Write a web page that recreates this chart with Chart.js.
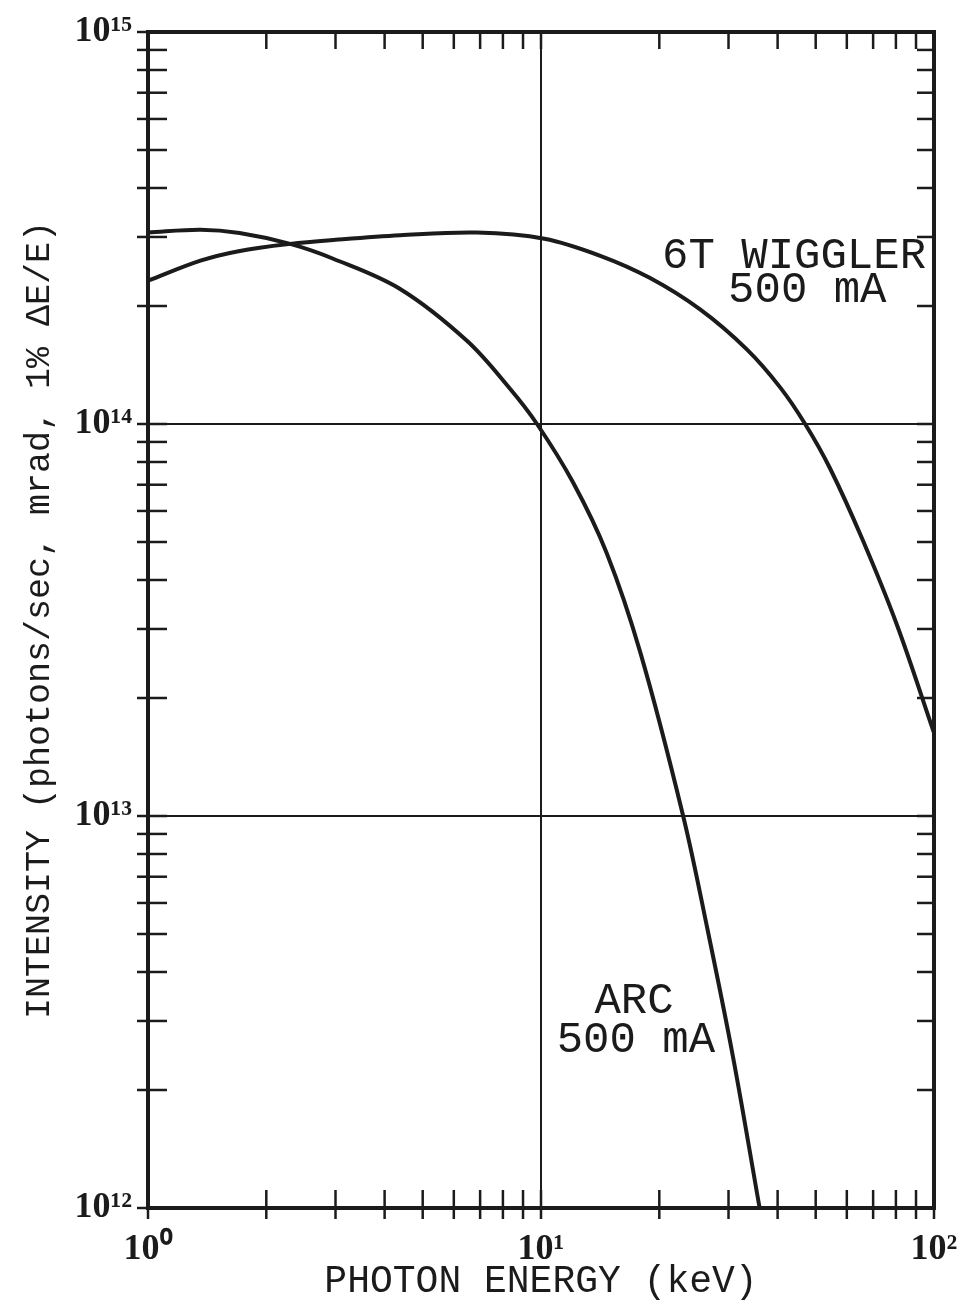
<!DOCTYPE html>
<html>
<head>
<meta charset="utf-8">
<script src="https://cdn.jsdelivr.net/npm/chart.js@4.4.1/dist/chart.umd.min.js"></script>
<style>
  html, body { margin: 0; padding: 0; background: #fff; }
  #wrap { width: 966px; height: 1305px; position: relative; }
</style>
</head>
<body>
<div id="wrap"><canvas id="spectrum"></canvas></div>
<script>
// photon energy (keV) / intensity
const wigglerEnergy = [1.0, 1.36, 1.7, 2.3, 3.0, 4.38, 6.87, 10.2, 14.1, 18.9, 25.4, 33.4, 40.6, 47.0, 54.4, 65.9, 80.5, 100];
const wigglerIntensity = [2.32e14, 2.61e14, 2.76e14, 2.88e14, 2.95e14, 3.03e14, 3.08e14, 2.97e14, 2.69e14, 2.36e14, 1.96e14, 1.55e14, 1.24e14, 1.0e14, 7.7e13, 5.05e13, 3.07e13, 1.63e13];

const arcEnergy = [1.0, 1.36, 1.71, 2.3, 2.96, 4.38, 6.48, 8.34, 9.77, 12.06, 14.7, 17.9, 23.0, 26.4, 30.8, 36.0];
const arcIntensity = [3.08e14, 3.13e14, 3.07e14, 2.88e14, 2.64e14, 2.21e14, 1.63e14, 1.23e14, 1.0e14, 7.1e13, 4.68e13, 2.61e13, 1.0e13, 5.26e12, 2.43e12, 1.0e12];

// axis ticks
const xTickValues = [1, 2, 3, 4, 5, 6, 7, 8, 9, 10, 20, 30, 40, 50, 60, 70, 80, 90, 100];
const xDecadeLabels = ["10\u2070", "10\u00b9", "10\u00b2"];
const yTickValues = [1e12, 2e12, 3e12, 4e12, 5e12, 6e12, 7e12, 8e12, 9e12,
                     1e13, 2e13, 3e13, 4e13, 5e13, 6e13, 7e13, 8e13, 9e13,
                     1e14, 2e14, 3e14, 4e14, 5e14, 6e14, 7e14, 8e14, 9e14, 1e15];
const yDecadeLabels = ["10\u00b9\u00b2", "10\u00b9\u00b3", "10\u00b9\u2074", "10\u00b9\u2075"];

const INK = "#1b1b1b";

function isDecade(v) {
    const l = Math.log10(v);
    return Math.abs(l - Math.round(l)) < 1e-9;
}

function toPoints(xs, ys) {
    return xs.map((x, i) => ({ x: x, y: ys[i] }));
}

// keep label overflow from moving the plot area
function noOverflow(s) {
    s.paddingLeft = 0;
    s.paddingRight = 0;
    s.paddingTop = 0;
    s.paddingBottom = 0;
}

// tick marks on all four sides + top/right frame
const frameTicks = {
    id: "frameTicks",
    afterDraw(chart) {
        const ctx = chart.ctx;
        const area = chart.chartArea;
        const xs = chart.scales.x;
        const ys = chart.scales.y;
        ctx.save();
        ctx.strokeStyle = INK;
        ctx.lineCap = "butt";

        ctx.lineWidth = 2.5;
        xTickValues.forEach(v => {
            const px = xs.getPixelForValue(v);
            ctx.beginPath();
            ctx.moveTo(px, area.bottom - 18);
            ctx.lineTo(px, area.bottom + 11);
            ctx.stroke();
            if (v !== xTickValues[0] && v !== xTickValues[xTickValues.length - 1]) {
                ctx.beginPath();
                ctx.moveTo(px, area.top);
                ctx.lineTo(px, area.top + 17);
                ctx.stroke();
            }
        });
        yTickValues.forEach(v => {
            const py = ys.getPixelForValue(v);
            ctx.beginPath();
            ctx.moveTo(area.left - 11, py);
            ctx.lineTo(area.left + 19, py);
            ctx.stroke();
            if (v !== yTickValues[0] && v !== yTickValues[yTickValues.length - 1]) {
                ctx.beginPath();
                ctx.moveTo(area.right, py);
                ctx.lineTo(area.right - 17, py);
                ctx.stroke();
            }
        });

        ctx.lineWidth = 4;
        ctx.beginPath();
        ctx.moveTo(area.left - 2, area.top);
        ctx.lineTo(area.right, area.top);
        ctx.lineTo(area.right, area.bottom + 2);
        ctx.stroke();
        ctx.restore();
    }
};

// curve labels
const curveLabels = {
    id: "curveLabels",
    afterDraw(chart) {
        const ctx = chart.ctx;
        const a = chart.chartArea;
        const w = a.right - a.left;
        const h = a.bottom - a.top;
        ctx.save();
        ctx.fillStyle = INK;
        ctx.font = "44px 'Liberation Mono', monospace";
        ctx.textAlign = "left";
        ctx.textBaseline = "alphabetic";
        ctx.fillText("6T WIGGLER", a.left + 0.654 * w, a.top + 0.201 * h);
        ctx.fillText("500 mA", a.left + 0.738 * w, a.top + 0.230 * h);
        ctx.fillText("ARC", a.left + 0.568 * w, a.top + 0.834 * h);
        ctx.fillText("500 mA", a.left + 0.520 * w, a.top + 0.867 * h);
        ctx.restore();
    }
};

const chart = new Chart(document.getElementById("spectrum"), {
    type: "line",
    data: {
        datasets: [
            {
                label: "6T WIGGLER 500 mA",
                data: toPoints(wigglerEnergy, wigglerIntensity),
                borderColor: INK,
                borderWidth: 4,
                pointRadius: 0,
                tension: 0.35,
                fill: false
            },
            {
                label: "ARC 500 mA",
                data: toPoints(arcEnergy, arcIntensity),
                borderColor: INK,
                borderWidth: 4,
                pointRadius: 0,
                tension: 0.35,
                fill: false
            }
        ]
    },
    options: {
        responsive: true,
        maintainAspectRatio: false,
        animation: false,
        layout: { padding: { left: 0, top: 32, right: 32, bottom: 0 } },
        plugins: {
            legend: { display: false },
            tooltip: { enabled: false }
        },
        scales: {
            x: {
                type: "logarithmic",
                position: "bottom",
                min: 1,
                max: 100,
                afterBuildTicks: s => { s.ticks = xTickValues.map(v => ({ value: v })); },
                afterFit: s => { s.height = 97; noOverflow(s); },
                border: { display: true, color: INK, width: 4 },
                grid: {
                    drawTicks: false,
                    lineWidth: 2,
                    color: c => (c.tick && isDecade(c.tick.value)) ? INK : "rgba(0,0,0,0)"
                },
                ticks: {
                    autoSkip: false,
                    maxRotation: 0,
                    padding: 20,
                    color: INK,
                    font: { family: "'Liberation Serif', serif", size: 36, weight: "bold" },
                    callback: v => isDecade(v) ? xDecadeLabels[Math.round(Math.log10(v))] : ""
                },
                title: {
                    display: true,
                    text: "PHOTON ENERGY (keV)",
                    color: INK,
                    padding: 0,
                    font: { family: "'Liberation Mono', monospace", size: 38, lineHeight: 1.2 }
                }
            },
            y: {
                type: "logarithmic",
                position: "left",
                min: 1e12,
                max: 1e15,
                afterBuildTicks: s => { s.ticks = yTickValues.map(v => ({ value: v })); },
                afterFit: s => { s.width = 148; noOverflow(s); },
                border: { display: true, color: INK, width: 4 },
                grid: {
                    drawTicks: false,
                    lineWidth: 2,
                    color: c => (c.tick && isDecade(c.tick.value)) ? INK : "rgba(0,0,0,0)"
                },
                ticks: {
                    autoSkip: false,
                    padding: 16,
                    color: INK,
                    font: { family: "'Liberation Serif', serif", size: 36, weight: "bold" },
                    callback: v => isDecade(v) ? yDecadeLabels[Math.round(Math.log10(v)) - 12] : ""
                },
                title: {
                    display: true,
                    text: "INTENSITY (photons/sec, mrad, 1% \u0394E/E)",
                    color: INK,
                    padding: { top: 19, bottom: 0 },
                    font: { family: "'Liberation Mono', monospace", size: 35, lineHeight: 1.2 }
                }
            }
        }
    },
    plugins: [frameTicks, curveLabels]
});
</script>
</body>
</html>
